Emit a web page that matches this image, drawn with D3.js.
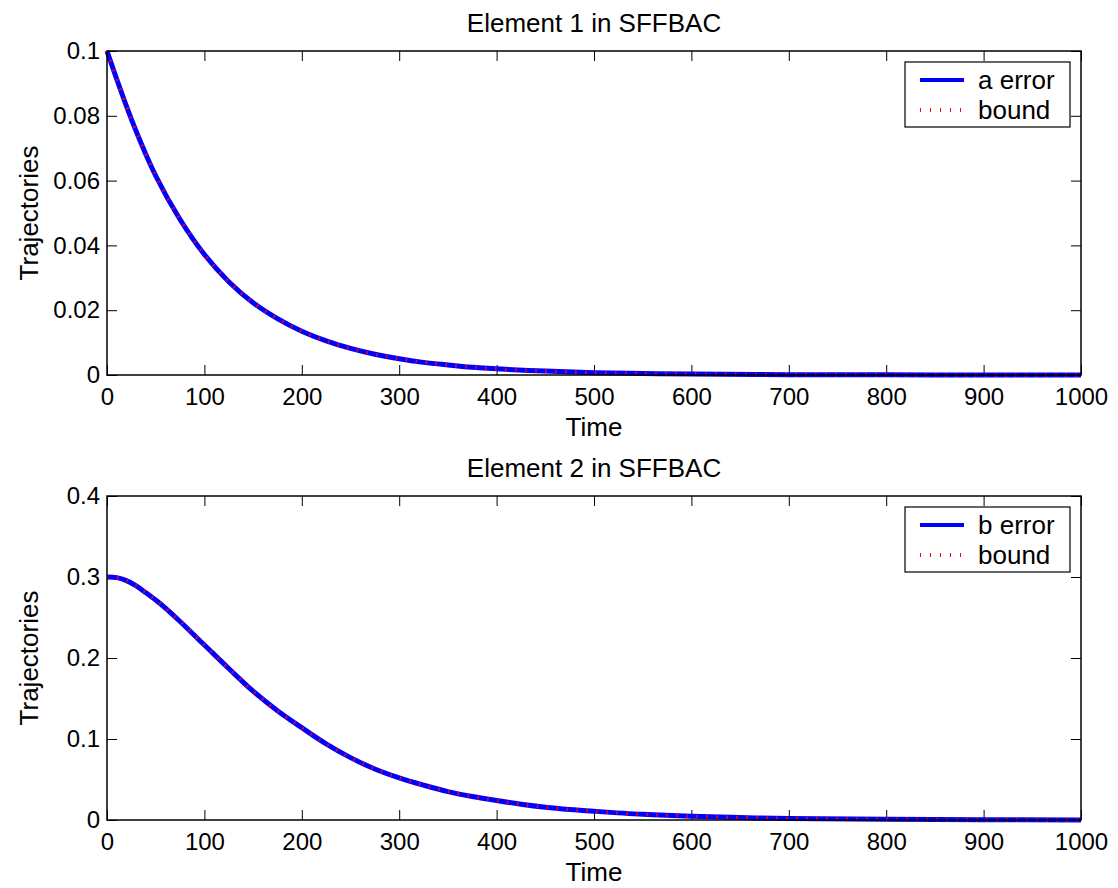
<!DOCTYPE html>
<html><head><meta charset="utf-8">
<script src="https://cdn.jsdelivr.net/npm/d3@7"></script>
<style>
body{margin:0;background:#fff;}
text{font-family:"Liberation Sans",Arial,sans-serif;fill:#000;}
</style></head>
<body><svg id="c" width="1118" height="888"></svg>
<script>
// ---- data ----
const timeA = [0,25,50,75,100,125,150,175,200,225,250,275,300,325,350,375,400,450,500,550,600,700,800,900,1000];
const errA  = [0.1,0.079,0.0615,0.0480,0.0372,0.0288,0.0223,0.0174,0.0135,0.0105,0.0082,0.0064,0.0050,0.0039,0.0031,0.0024,0.0019,0.0012,0.0007,0.00045,0.0003,0.0001,0.00004,0.00002,0.00001];
const boundA = errA.slice();
const timeB = [0,10,20,30,40,50,60,75,100,125,150,175,200,225,250,275,300,325,350,375,400,425,450,475,500,550,600,650,700,800,900,1000];
const errB  = [0.300,0.2992,0.2955,0.289,0.2805,0.2715,0.2615,0.245,0.216,0.187,0.159,0.135,0.114,0.094,0.077,0.063,0.052,0.043,0.035,0.029,0.0240,0.0195,0.0158,0.0130,0.0108,0.0070,0.0045,0.0030,0.0019,0.0008,0.0003,0.0001];
const boundB = errB.slice();
const xTicks = [0,100,200,300,400,500,600,700,800,900,1000];
const yTicksA = [0,0.02,0.04,0.06,0.08,0.1];
const yTicksB = [0,0.1,0.2,0.3,0.4];
const titles = ["Element 1 in SFFBAC","Element 2 in SFFBAC"];
const legendNames = [["a error","bound"],["b error","bound"]];

const svg = d3.select("#c");
const L = 107, R = 1081;
const panels = [
  {top:51, bottom:375, ymax:0.1, yt:yTicksA, t:timeA, e:errA, b:boundA, title:titles[0], leg:legendNames[0]},
  {top:496, bottom:820, ymax:0.4, yt:yTicksB, t:timeB, e:errB, b:boundB, title:titles[1], leg:legendNames[1]}
];
const fs = 24, fl = 26;
panels.forEach(p=>{
  const x = d3.scaleLinear().domain([0,1000]).range([L,R]);
  const y = d3.scaleLinear().domain([0,p.ymax]).range([p.bottom,p.top]);
  const g = svg.append("g");
  const fmt = v => String(+v.toFixed(4));
  const tl = 10;
  g.append("g").attr("transform",`translate(0,${p.bottom})`)
    .call(d3.axisBottom(x).tickValues(xTicks).tickSize(-tl).tickPadding(13).tickFormat(fmt))
    .call(a=>{a.select(".domain").remove(); a.selectAll("text").style("font-size",fs+"px").attr("font-family","Liberation Sans, Arial");});
  g.append("g").attr("transform",`translate(0,${p.top})`)
    .call(d3.axisTop(x).tickValues(xTicks).tickSize(-tl).tickFormat(""))
    .call(a=>a.select(".domain").remove());
  g.append("g").attr("transform",`translate(${L},0)`)
    .call(d3.axisLeft(y).tickValues(p.yt).tickSize(-tl).tickPadding(7).tickFormat(fmt))
    .call(a=>{a.select(".domain").remove(); a.selectAll("text").style("font-size",fs+"px").attr("font-family","Liberation Sans, Arial");});
  g.append("g").attr("transform",`translate(${R},0)`)
    .call(d3.axisRight(y).tickValues(p.yt).tickSize(-tl).tickFormat(""))
    .call(a=>a.select(".domain").remove());
  g.selectAll(".tick line").attr("stroke","#000");
  const line = d3.line().x((d,i)=>x(p.t[i])).y(d=>y(d)).curve(d3.curveCatmullRom);
  g.append("path").attr("d",line(p.e)).attr("fill","none").attr("stroke","#0000ff").attr("stroke-width",5);
  g.append("path").attr("d",line(p.b)).attr("fill","none").attr("stroke","#ff0000").attr("stroke-width",3.5).attr("stroke-dasharray","1.5,8.5");
  g.append("rect").attr("x",L).attr("y",p.top).attr("width",R-L).attr("height",p.bottom-p.top)
    .attr("fill","none").attr("stroke","#000").attr("stroke-width",1.5);
  g.append("text").attr("x",(L+R)/2).attr("y",p.top-19).attr("text-anchor","middle").style("font-size",fl+"px").text(p.title);
  g.append("text").attr("x",(L+R)/2).attr("y",p.bottom+61).attr("text-anchor","middle").style("font-size",fl+"px").text("Time");
  g.append("text").attr("transform",`translate(38,${(p.top+p.bottom)/2}) rotate(-90)`).attr("text-anchor","middle").style("font-size",fl+"px").text("Trajectories");
  const lx = 905, ly = p.top+11;
  const lg = g.append("g");
  lg.append("rect").attr("x",lx).attr("y",ly).attr("width",165).attr("height",65).attr("fill","#fff").attr("stroke","#000").attr("stroke-width",1.2);
  lg.append("line").attr("x1",920).attr("x2",964).attr("y1",ly+18).attr("y2",ly+18).attr("stroke","#0000ff").attr("stroke-width",4);
  lg.append("line").attr("x1",920).attr("x2",964).attr("y1",ly+48).attr("y2",ly+48).attr("stroke","#ff0000").attr("stroke-width",4).attr("stroke-dasharray","1,9");
  lg.append("text").attr("x",978).attr("y",ly+27).style("font-size",fl+"px").text(p.leg[0]);
  lg.append("text").attr("x",978).attr("y",ly+57).style("font-size",fl+"px").text(p.leg[1]);
});
</script></body></html>
